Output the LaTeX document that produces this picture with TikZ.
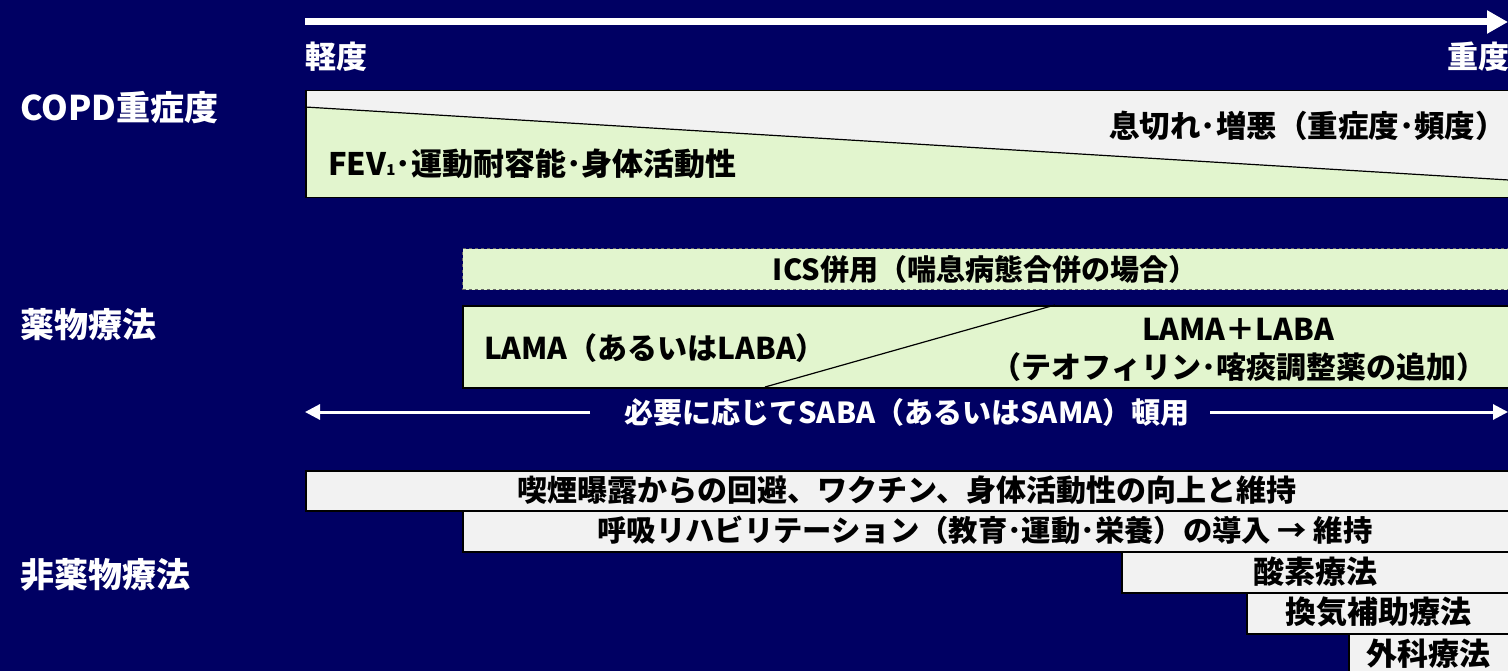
\documentclass[tikz,border=0pt]{standalone}
\usepackage{fontspec}
\setmainfont{Noto Sans CJK JP}
\usetikzlibrary{arrows.meta}
\definecolor{bg}{HTML}{000063}
\definecolor{lg}{HTML}{F2F2F2}
\definecolor{gr}{HTML}{E2F5CE}
\tikzset{
  side/.style={text=white, font=\bfseries\fontsize{34}{40}\selectfont, inner sep=0pt, anchor=west},
  toplbl/.style={text=white, font=\bfseries\fontsize{31}{36}\selectfont, inner sep=0pt},
  tb/.style={text=black, font=\bfseries\fontsize{30}{36}\selectfont, inner sep=0pt},
  tbs/.style={text=black, font=\bfseries\fontsize{31}{36}\selectfont, inner sep=0pt},
  box/.style={draw=black, line width=1.5pt, anchor=north west, inner sep=0pt, rectangle},
  wline/.style={white, line width=3pt, -{Triangle[length=15pt,width=15pt]}}
}
\begin{document}
\begin{tikzpicture}[x=1pt,y=-1pt]
\fill[bg] (0,0) rectangle (1508,671);
\useasboundingbox (0,0) rectangle (1508,671);

% severity axis
\coordinate (ax0) at (305,22);
\coordinate (ax1) at (1508,22);
\draw[white, line width=7pt, -{Triangle[length=21pt,width=22pt]}] (ax0) -- (ax1);
\node[toplbl, anchor=west] (light) at (305,57) {軽度};
\node[toplbl, anchor=east] (heavy) at (1510,57) {重度};

% side labels
\node[side] (copd) at (20,108) {COPD重症度};
\node[side] (drug) at (20,325) {薬物療法};
\node[side] (nondrug) at (20,575) {非薬物療法};

% COPD severity box
\fill[lg] (305,90) rectangle (1517,197);
\fill[gr] (305,107) -- (1517,180.5) -- (1517,197) -- (305,197) -- cycle;
\draw[black, line width=1.2pt] (305,107) -- (1517,180.5);
\node[box, minimum width=1212pt, minimum height=107pt] (sev) at (305,90) {};
\node[tb, font=\bfseries\fontsize{30.5}{36}\selectfont, anchor=east] (breath) at (1506,126) {息切れ･増悪（重症度･頻度）};
\node[tb, font=\bfseries\fontsize{31}{36}\selectfont, anchor=west] (fev) at (328,164) {FEV{\fontsize{15}{15}\selectfont 1}･運動耐容能･身体活動性};

% ICS box
\node[box, dashed, draw=black!60, line width=1.2pt, fill=gr, minimum width=1055pt, minimum height=41pt] (ics) at (462,248) {};
\node[tb, font=\bfseries\fontsize{29}{36}\selectfont] (icst) at (985,269) {ICS併用（喘息病態合併の場合）};

% LAMA box
\node[box, fill=gr, minimum width=1055pt, minimum height=82pt] (lama) at (462,305) {};
\draw[black, line width=1.2pt] (765,387) -- (1055,305);
\node[tb] (lamat) at (655,348) {LAMA（あるいはLABA）};
\node[tb] (combo) at (1238,329) {LAMA＋LABA};
\node[tb] (theo) at (1239,367) {（テオフィリン･喀痰調整薬の追加）};

% SABA
\node[tb, text=white, font=\bfseries\fontsize{29}{36}\selectfont] (saba) at (907,412) {必要に応じてSABA（あるいはSAMA）頓用};
\coordinate (sl0) at (590,412);
\coordinate (sl) at (305,412);
\coordinate (sr0) at (1210,412);
\coordinate (sr) at (1508,412);
\draw[wline] (sl0) -- (sl);
\draw[wline] (sr0) -- (sr);

% non-pharmacological
\node[box, fill=lg, minimum width=1212pt, minimum height=40pt] (avoid) at (305,470) {};
\node[tb] (avoidt) at (907,490) {喫煙曝露からの回避、ワクチン、身体活動性の向上と維持};
\node[box, fill=lg, minimum width=1055pt, minimum height=41pt] (rehab) at (462,510) {};
\node[tb, font=\bfseries\fontsize{29.3}{36}\selectfont] (rehabt) at (985,530) {呼吸リハビリテーション（教育･運動･栄養）の導入 → 維持};
\node[box, fill=lg, minimum width=396pt, minimum height=41pt] (oxy) at (1121,551) {};
\node[tbs] (oxyt) at (1315,572) {酸素療法};
\node[box, fill=lg, minimum width=271pt, minimum height=41pt] (vent) at (1246,592) {};
\node[tbs] (ventt) at (1378,612) {換気補助療法};
\node[box, fill=lg, minimum width=169pt, minimum height=45pt] (surg) at (1348,633) {};
\node[tbs] (surgt) at (1428,654) {外科療法};
\end{tikzpicture}
\end{document}
